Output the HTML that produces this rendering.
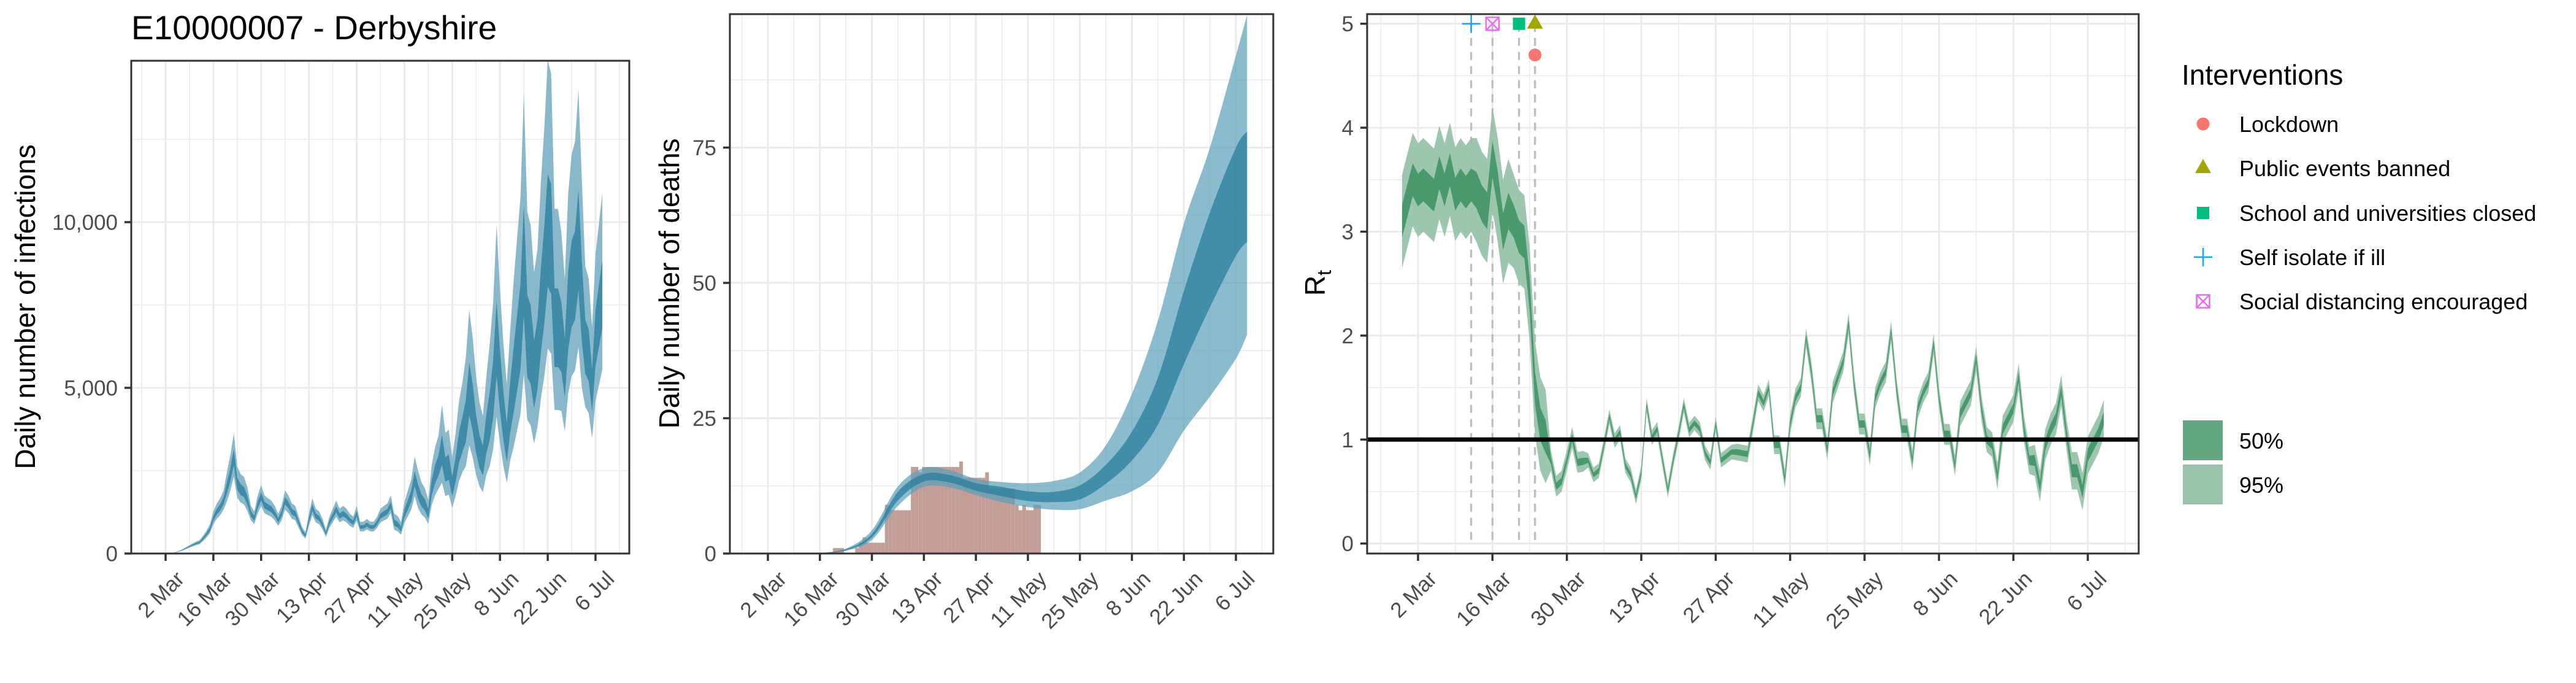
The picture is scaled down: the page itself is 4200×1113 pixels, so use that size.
<!DOCTYPE html>
<html><head><meta charset="utf-8"><title>E10000007 - Derbyshire</title>
<style>
html,body{margin:0;padding:0;background:#fff;}
svg{display:block;font-family:"Liberation Sans",Arial,sans-serif;}
</style></head>
<body>
<svg id="chart" xmlns="http://www.w3.org/2000/svg" width="4200" height="1113" viewBox="0 0 4200 1113">
<rect x="0" y="0" width="4200" height="1113" fill="#fff"/>
<text x="214" y="64" font-size="55" fill="#000">E10000007 - Derbyshire</text>
<g id="p1"></g>
<g id="p2"></g>
<g id="p3"></g>
<g id="legend"></g>
</svg>
<script>
// ---------- data ----------
const tickDays = [0,14,28,42,56,70,84,98,112,126];
const tickLabels = ["2 Mar","16 Mar","30 Mar","13 Apr","27 Apr","11 May","25 May","8 Jun","22 Jun","6 Jul"];

// infections: day -3 .. 128 (day 0 = 2 Mar)
const infStartDay = -3;
const infMid = [0,0,0,0,0,10,40,70,110,160,210,260,300,340,450,580,735,
1060,1260,1390,1590,1980,2380,2900,
2100,1920,1850,1590,1200,1060,1460,
1720,1460,1390,1330,1200,1000,1200,
1590,1460,1260,1200,930,670,540,
1000,1390,1130,1060,870,600,930,
1130,1330,1130,1200,1130,1000,930,
1200,800,800,870,800,800,930,
1130,1200,1260,1460,930,870,735,
1200,1460,1720,2250,1850,1590,1460,
1200,1980,2380,2640,3100,2510,2580,
2000,2510,3170,3560,3950,4900,4350,
3560,3040,2770,3560,4090,4880,6400,
5140,4090,3300,4350,5140,5930,6710,
8700,6450,6190,5300,5930,7240,8290,
9600,9340,6710,6710,6450,5530,7240,
8030,8290,9340,7500,6190,5930,4880,
6450,7110,7770];
// relative 95% spread per week (weeks from day -3)
const infWeekSpread = [0.2,0.2,0.2,0.25,0.2,0.2,0.2,0.2,0.2,0.2,0.3,0.35,0.45,0.5,0.55,0.6,0.55,0.5,0.4];

// deaths model (weekly nodes)
const deathDays = [14,21,28,35,42,49,56,63,70,77,84,91,98,105,112,119,126,129];
const deathMid  = [0.05,0.7,3.3,10.6,14,13.8,12.3,11.4,10.6,10.4,11.3,14.6,19.8,28,41.6,54,65,68];
const deathLo95 = [0,0.5,2.5,8.8,12.3,12.2,10.8,9.5,8.6,8.1,8.2,9.8,11.5,15,22.7,29,36,40.4];
const deathHi95 = [0.1,0.9,4.3,12.4,15.8,15.4,13.8,13.2,13,13.4,15,20,29.5,43,61,75,92,99.5];
const deathLo50 = [0.04,0.6,3.0,9.8,13.3,13.1,11.6,10.6,9.7,9.5,10,12.9,17.2,23.8,35,45.5,55,57.6];
const deathHi50 = [0.06,0.8,3.6,11.4,14.7,14.5,13,12.3,11.5,11.4,12.6,16.4,22.5,32.5,48.5,63,75,78];
// observed deaths: day 18 .. 73
const obsStartDay = 18;
const obsDeaths = [1,1,1,0,0,0,1,2,3,2,2,2,2,2,9,8,8,8,8,8,8,16,16,15,16,16,16,16,16,16,16,16,16,16,17,14,14,14,14,14,14,15,12,12,12,12,12,12,12,9,8,9,8,8,9,9];

// Rt: day -3 .. 129
const rtStartDay = -3;
const rtMid = [3.1,3.3,3.5,3.4,3.45,3.4,3.35,3.57,3.4,3.6,3.36,3.45,3.38,3.45,3.4,3.27,3.2,3.7,3.4,3.0,3.2,3.1,2.95,2.9,2.4,1.5,
1.15,1.03,0.8,0.55,0.6,0.8,1.02,0.78,0.79,0.8,0.66,0.7,0.95,1.22,0.99,1.07,0.75,0.66,0.45,0.68,1.33,1.02,1.1,0.8,0.51,0.8,1.05,
1.33,1.09,1.16,1.1,0.87,0.78,1.15,0.8,0.84,0.88,0.88,0.87,0.86,1.15,1.45,1.35,1.5,0.95,0.95,0.62,
1.15,1.4,1.5,1.98,1.65,1.2,1.2,0.9,1.45,1.6,1.75,2.12,1.55,1.15,1.15,0.85,1.4,1.55,1.65,2.04,
1.5,1.1,1.1,0.8,1.3,1.45,1.55,1.92,1.4,1.05,1.05,0.75,1.25,1.35,1.45,1.78,1.3,1.0,0.95,0.65,
1.1,1.2,1.3,1.6,1.1,0.8,0.8,0.55,0.95,1.1,1.2,1.47,1.05,0.7,0.7,0.5,0.85,0.95,1.05,1.2];
const rtWeekW95 = [0.45,0.45,0.5,0.45,0.1,0.07,0.07,0.07,0.07,0.08,0.09,0.1,0.1,0.1,0.1,0.12,0.13,0.15,0.18,0.2];

const interventionNames = ["Lockdown","Public events banned","School and universities closed","Self isolate if ill","Social distancing encouraged"];
const interventionDays = [22,22,19,10,14];
const interventionRt = [4.7,5,5,5,5];

// ---------- helpers ----------
const NS = "http://www.w3.org/2000/svg";
function mk(tag, attrs, parent){
  const e = document.createElementNS(NS, tag);
  for (const k in attrs) e.setAttribute(k, attrs[k]);
  if (parent) parent.appendChild(e);
  return e;
}
const FG = "#333333", TICKC = "#4d4d4d", GRID = "#ebebeb";

function makePanel(g, L, T, R, B, xs, ys, yMajor, yMinor){
  const bg = mk("rect",{x:L,y:T,width:R-L,height:B-T,fill:"#fff"},g);
  
  
  const grid = mk("g",{},g);
  
  
  for (let d=-7; d<=140; d+=7){
    const x = xs(d); if (x<L||x>R) continue;
    const major = tickDays.indexOf(d)>=0;
    mk("line",{x1:x,x2:x,y1:T,y2:B,stroke:GRID,"stroke-width":major?3:1.6},grid);
  }
  yMinor.forEach(v=>{const y=ys(v); if(y>T&&y<B) mk("line",{x1:L,x2:R,y1:y,y2:y,stroke:GRID,"stroke-width":1.6},grid);});
  yMajor.forEach(v=>{const y=ys(v); mk("line",{x1:L,x2:R,y1:y,y2:y,stroke:GRID,"stroke-width":3},grid);});
  return grid;
}
function finishPanel(g, L, T, R, B, xs, ys, yMajor, yLabels){
  const frame = mk("rect",{x:L,y:T,width:R-L,height:B-T,fill:"none",stroke:FG,"stroke-width":3},g);
  
  
  const xa = mk("g",{},g);
  
  
  tickDays.forEach((d,i)=>{
    const x = xs(d);
    mk("line",{x1:x,x2:x,y1:B,y2:B+12,stroke:FG,"stroke-width":3.5},xa);
    const t = mk("text",{transform:`translate(${x+15},${B+26}) rotate(-45)`,"text-anchor":"end","dominant-baseline":"hanging","font-size":35,fill:TICKC},xa);
    
    
    t.textContent = tickLabels[i];
  });
  const ya = mk("g",{},g);
  
  
  yMajor.forEach((v,i)=>{
    const y = ys(v);
    mk("line",{x1:L-11,x2:L,y1:y,y2:y,stroke:FG,"stroke-width":3.5},ya);
    const t = mk("text",{x:L-22,y:y+12.5,"text-anchor":"end","font-size":35,fill:TICKC},ya);
    
    
    t.textContent = yLabels[i];
  });
}
function bandPath(xsArr, lo, hi){
  let p = "M"+xsArr[0]+","+hi[0];
  for (let i=1;i<xsArr.length;i++) p += "L"+xsArr[i]+","+hi[i];
  for (let i=xsArr.length-1;i>=0;i--) p += "L"+xsArr[i]+","+lo[i];
  return p+"Z";
}
function smooth(px, py){
  const ox=[], oy=[];
  for (let i=0;i<px.length-1;i++){
    const x0=px[Math.max(i-1,0)], y0=py[Math.max(i-1,0)], x1=px[i], y1=py[i], x2=px[i+1], y2=py[i+1];
    const x3=px[Math.min(i+2,px.length-1)], y3=py[Math.min(i+2,py.length-1)];
    for (let s=0;s<12;s++){
      const t=s/12, t2=t*t, t3=t2*t;
      ox.push(0.5*((2*x1)+(-x0+x2)*t+(2*x0-5*x1+4*x2-x3)*t2+(-x0+3*x1-3*x2+x3)*t3));
      oy.push(0.5*((2*y1)+(-y0+y2)*t+(2*y0-5*y1+4*y2-y3)*t2+(-y0+3*y1-3*y2+y3)*t3));
    }
  }
  ox.push(px[px.length-1]); oy.push(py[py.length-1]);
  return [ox, oy];
}

// ---------- panel 1: infections ----------
(function(){
  const g = document.getElementById("p1");
  const L=214,T=99,R=1026,B=902;
  const xs = d => 270 + d*5.563;
  const ys = v => 902 - v*0.054;
  makePanel(g,L,T,R,B,xs,ys,[0,5000,10000],[2500,7500,12500]);
  const X=[], lo95=[], hi95=[], lo50=[], hi50=[];
  infMid.forEach((m,i)=>{
    const d = infStartDay + i;
    const w = infWeekSpread[Math.floor(i/7)];
    X.push(xs(d));
    hi95.push(ys(m*(1+w))); lo95.push(ys(m/(1+w)));
    hi50.push(ys(m*(1+w*0.35))); lo50.push(ys(m/(1+w*0.35)));
  });
  const b95 = mk("path",{d:bandPath(X,lo95,hi95),fill:"#88b8ca"},g);
  
  
  const b50 = mk("path",{d:bandPath(X,lo50,hi50),fill:"#3f8ba8"},g);
  
  
  finishPanel(g,L,T,R,B,xs,ys,[0,5000,10000],["0","5,000","10,000"]);
  const yt = mk("text",{transform:"translate(57,500) rotate(-90)","text-anchor":"middle","font-size":46,fill:"#000"},g);
  
  
  yt.textContent = "Daily number of infections";
})();

// ---------- panel 2: deaths ----------
(function(){
  const g = document.getElementById("p2");
  const L=1190,T=23,R=2076,B=902;
  const xs = d => 1252 + d*6.056;
  const ys = v => 902 - v*8.82;
  makePanel(g,L,T,R,B,xs,ys,[0,25,50,75],[12.5,37.5,62.5,87.5]);
  const bars = mk("g",{},g);
  
  
  obsDeaths.forEach((v,i)=>{
    if (v<=0) return;
    const d = obsStartDay + i;
    const r = mk("rect",{x:xs(d)-3.03,y:ys(v),width:6.06,height:ys(0)-ys(v),fill:"#c39e96"},bars);
    
    
  });
  const X = deathDays.map(xs);
  const s95h = smooth(X, deathHi95.map(ys)), s95l = smooth(X, deathLo95.map(ys));
  const s50h = smooth(X, deathHi50.map(ys)), s50l = smooth(X, deathLo50.map(ys));
  const b95 = mk("path",{d:bandPath(s95h[0],s95l[1],s95h[1]),fill:"#5a9fb9","fill-opacity":0.7},g);
  
  
  const b50 = mk("path",{d:bandPath(s50h[0],s50l[1],s50h[1]),fill:"#2a7e9e","fill-opacity":0.75},g);
  
  
  finishPanel(g,L,T,R,B,xs,ys,[0,25,50,75],["0","25","50","75"]);
  const yt = mk("text",{transform:"translate(1107,462) rotate(-90)","text-anchor":"middle","font-size":46,fill:"#000"},g);
  
  
  yt.textContent = "Daily number of deaths";
})();

// ---------- panel 3: Rt ----------
(function(){
  const g = document.getElementById("p3");
  const L=2229,T=23,R=3487,B=902;
  const xs = d => 2312 + d*8.667;
  const ys = v => 885.7 - v*169.4;
  makePanel(g,L,T,R,B,xs,ys,[0,1,2,3,4,5],[0.5,1.5,2.5,3.5,4.5]);
  const dl = mk("g",{},g);
  
  
  interventionDays.forEach(d=>{
    mk("line",{x1:xs(d),x2:xs(d),y1:ys(5),y2:ys(0),stroke:"#bdbdbd","stroke-width":3.2,"stroke-dasharray":"13,10"},dl);
  });
  const X=[], lo95=[], hi95=[], lo50=[], hi50=[];
  rtMid.forEach((m,i)=>{
    const d = rtStartDay + i;
    const w = rtWeekW95[Math.floor(i/7)];
    X.push(xs(d));
    hi95.push(ys(m+w)); lo95.push(ys(m-w));
    hi50.push(ys(m+w*0.35)); lo50.push(ys(m-w*0.35));
  });
  const b95 = mk("path",{d:bandPath(X,lo95,hi95),fill:"#97c3aa","fill-opacity":0.95},g);
  
  
  const b50 = mk("path",{d:bandPath(X,lo50,hi50),fill:"#4a996c"},g);
  
  
  const one = mk("line",{x1:L,x2:R,y1:ys(1),y2:ys(1),stroke:"#000","stroke-width":7},g);
  
  
  const mg = mk("g",{},g);
  
  
  interventionNames.forEach((n,i)=>{
    drawMarker(mg, i, xs(interventionDays[i]), ys(interventionRt[i]));
  });
  finishPanel(g,L,T,R,B,xs,ys,[0,1,2,3,4,5],["0","1","2","3","4","5"]);
  const yt = mk("text",{transform:"translate(2160,461) rotate(-90)","text-anchor":"middle","font-size":46,fill:"#000"},g);
  
  
  yt.innerHTML = 'R<tspan font-size="32" dy="10">t</tspan>';
})();

function drawMarker(parent, kind, x, y){
  let e;
  if (kind===0){ e = mk("circle",{cx:x,cy:y,r:10.5,fill:"#F8766D"},parent); }
  else if (kind===1){ e = mk("polygon",{points:`${x},${y-15} ${x+13},${y+8} ${x-13},${y+8}`,fill:"#A3A500"},parent); }
  else if (kind===2){ e = mk("rect",{x:x-10,y:y-10,width:20,height:20,fill:"#00BF7D"},parent); }
  else if (kind===3){
    e = mk("g",{stroke:"#00B0F6","stroke-width":2.5},parent);
    mk("line",{x1:x-15,x2:x+15,y1:y,y2:y},e); mk("line",{x1:x,x2:x,y1:y-15,y2:y+15},e);
  } else {
    e = mk("g",{stroke:"#E76BF3","stroke-width":2.5,fill:"none"},parent);
    mk("rect",{x:x-10.5,y:y-10.5,width:21,height:21},e);
    mk("line",{x1:x-10.5,x2:x+10.5,y1:y-10.5,y2:y+10.5},e);
    mk("line",{x1:x-10.5,x2:x+10.5,y1:y+10.5,y2:y-10.5},e);
  }
  
  
}

// ---------- legend ----------
(function(){
  const g = document.getElementById("legend");
  const t = mk("text",{x:3557,y:138,"font-size":46,fill:"#000"},g);
  
  
  t.textContent = "Interventions";
  const rows = [202,274,347,419,491];
  interventionNames.forEach((n,i)=>{
    const row = mk("g",{},g);
    
    
    drawMarker(row, i, 3592, rows[i]);
    const tx = mk("text",{x:3651,y:rows[i]+13,"font-size":36,fill:"#000"},row);
    
    
    tx.textContent = n;
  });
  const k50 = mk("rect",{x:3559,y:685,width:65,height:65,fill:"#62a77f"},g);
  
  
  const k95 = mk("rect",{x:3559,y:757,width:65,height:65,fill:"#98c3aa"},g);
  
  
  const l50 = mk("text",{x:3651,y:731,"font-size":36,fill:"#000"},g);
  
  
  l50.textContent = "50%";
  const l95 = mk("text",{x:3651,y:803,"font-size":36,fill:"#000"},g);
  
  
  l95.textContent = "95%";
})();
</script>
</body></html>
